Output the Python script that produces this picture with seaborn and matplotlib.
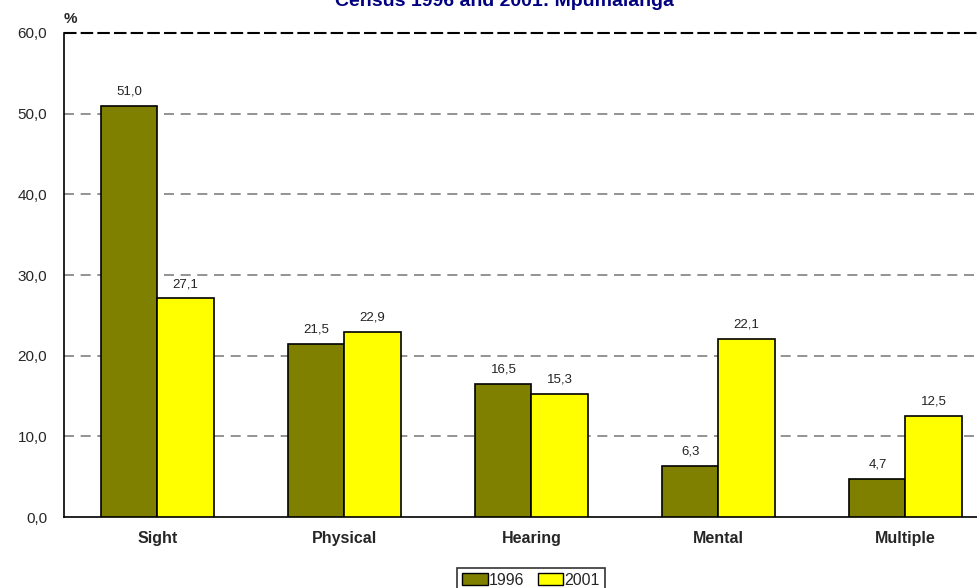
import pandas as pd
import seaborn as sns
import matplotlib.pyplot as plt
from matplotlib.patches import Patch

categories = ["Sight", "Physical", "Hearing", "Mental", "Multiple"]
years = ["1996", "2001"]
values_1996 = [51.0, 21.5, 16.5, 6.3, 4.7]
values_2001 = [27.1, 22.9, 15.3, 22.1, 12.5]
y_ticks = [0, 10, 20, 30, 40, 50, 60]

colors = {"1996": "#808000", "2001": "#FFFF00"}

df = pd.DataFrame({
    "Type": categories * 2,
    "Year": ["1996"] * 5 + ["2001"] * 5,
    "Percent": values_1996 + values_2001,
})

sns.set_style("white")
plt.rcParams["font.family"] = ["Liberation Sans Narrow", "Liberation Sans", "DejaVu Sans"]

fig = plt.figure(figsize=(9.78, 5.88), dpi=100)
ax = fig.add_axes([0.0654, 0.1207, 0.956, 0.8232])

sns.barplot(data=df, x="Type", y="Percent", hue="Year", palette=colors,
            width=0.6, edgecolor="black", linewidth=1.2, saturation=1,
            legend=False, ax=ax, zorder=3)

for cont in ax.containers:
    ax.bar_label(cont, labels=[f"{v:.1f}".replace(".", ",") for v in cont.datavalues],
                 padding=6, fontsize=9.5, color="#222222")

ax.set_ylim(0, 60)
ax.set_xlim(-0.5, 4.5)
ax.set_yticks(y_ticks)
ax.set_yticklabels([f"{t:.1f}".replace(".", ",") for t in y_ticks], fontsize=11)
ax.tick_params(axis="y", length=0, pad=12)
ax.tick_params(axis="x", length=0, pad=10)
for lbl in ax.get_xticklabels():
    lbl.set_fontweight("bold")
    lbl.set_fontsize(11.5)
ax.set_xlabel("")
ax.set_ylabel("")

for t in y_ticks[1:-1]:
    ax.axhline(t, color="#808080", linestyle=(0, (6, 4)), linewidth=1.2, zorder=1)
ax.axhline(60, color="black", linestyle=(0, (6, 2)), linewidth=1.5, zorder=1, clip_on=False)

for s in ["top", "right"]:
    ax.spines[s].set_visible(False)
ax.spines["left"].set_color("black")
ax.spines["left"].set_linewidth(1.2)
ax.spines["bottom"].set_color("black")
ax.spines["bottom"].set_linewidth(1.2)

fig.text(0.0654, 0.955, "%", fontsize=11, fontweight="bold", ha="left", va="bottom")
fig.text(0.516, 0.99, "Census 1996 and 2001: Mpumalanga", fontsize=14, fontweight="bold",
         color="#000080", ha="center", va="baseline")

handles = [Patch(facecolor=colors[y], edgecolor="black", label=y) for y in years]
leg = fig.legend(handles=handles, loc="upper center", bbox_to_anchor=(0.543, 0.048),
                 ncol=2, frameon=True, fontsize=11.5, handlelength=1.6, handleheight=0.8,
                 handletextpad=0.1, columnspacing=0.8, borderpad=0.3, fancybox=False)
leg.get_frame().set_edgecolor("black")
leg.get_frame().set_linewidth(1.2)

fig.savefig("out.png", dpi=100)
